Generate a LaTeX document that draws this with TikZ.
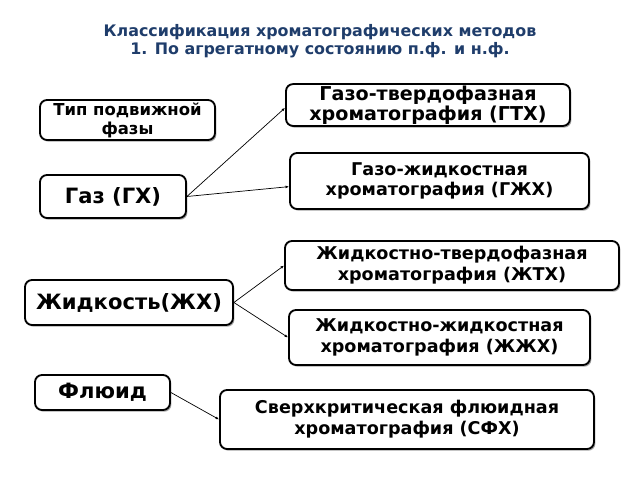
\documentclass[tikz,border=0pt]{standalone}
\usepackage{fontspec}
\setmainfont{DejaVu Sans}
\usetikzlibrary{shadows,arrows.meta}
\definecolor{titleblue}{HTML}{1F3D6B}

\begin{document}
\begin{tikzpicture}[x=0.025cm, y=-0.025cm,
		main/.style = {draw, rounded corners=5pt, line width=1.3pt, fill=white, align=center, inner sep=1pt,
			font=\fontsize{12.5}{14.8}\selectfont\bfseries,
			drop shadow={shadow xshift=1pt, shadow yshift=-1.2pt, opacity=0.35, fill=black}},
		big/.style = {main, font=\fontsize{15}{17}\selectfont\bfseries},
		link/.style = {line width=0.5pt, -{Latex[length=2.5pt,width=2pt]}}]
			\useasboundingbox (0,0) rectangle (640,480);
			\node[text=titleblue, align=center, font=\fontsize{11.3}{12.8}\selectfont\bfseries] (0) at (320,41)
				{Классификация хроматографических методов\\1. По агрегатному состоянию п.ф. и н.ф.};
			\node[main, font=\fontsize{11.7}{13.5}\selectfont\bfseries, minimum width=175*0.025cm, minimum height=40*0.025cm] (1) at (127.5,120) {Тип подвижной\\фазы};
			\node[big, minimum width=146*0.025cm, minimum height=43*0.025cm] (2) at (113,196.5) {Газ (ГХ)};
			\node[main, font=\fontsize{13.6}{14.6}\selectfont\bfseries, minimum width=284*0.025cm, minimum height=40*0.025cm] (3) at (428,105) {Газо-твердофазная\\хроматография (ГТХ)};
			\node[main, minimum width=299*0.025cm, minimum height=56*0.025cm] (4) at (439.5,181) {Газо-жидкостная\\хроматография (ГЖХ)};
			\node[big, minimum width=208*0.025cm, minimum height=45*0.025cm] (5) at (129,302.5) {Жидкость(ЖХ)};
			\node[main, minimum width=334*0.025cm, minimum height=49*0.025cm] (6) at (452,265.5) {Жидкостно-твердофазная\\хроматография (ЖТХ)};
			\node[main, minimum width=301*0.025cm, minimum height=55*0.025cm] (7) at (439.5,337.5) {Жидкостно-жидкостная\\хроматография (ЖЖХ)};
			\node[big, minimum width=135*0.025cm, minimum height=35*0.025cm] (8) at (102.5,392.5) {Флюид};
			\node[main, minimum width=374*0.025cm, minimum height=59*0.025cm] (9) at (407,419.5) {Сверхкритическая флюидная\\хроматография (СФХ)};
			\draw[link] (2.east) -- ([yshift=-2pt]3.west);
			\draw[link] (2.east) -- ([yshift=-4pt]4.west);
			\draw[link] (5.east) -- (6.west);
			\draw[link] (5.east) -- (7.west);
			\draw[link] (8.east) -- (9.west);
		\end{tikzpicture}
\end{document}
